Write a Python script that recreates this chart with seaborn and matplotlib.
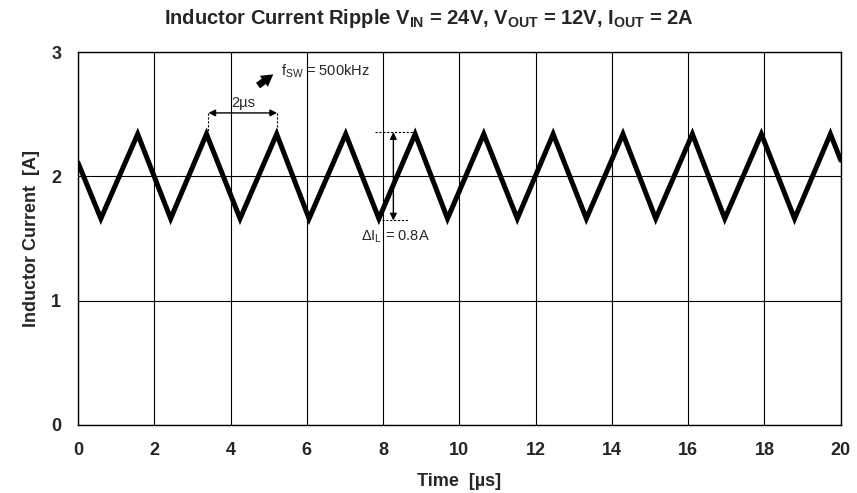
import matplotlib
matplotlib.use("Agg")
import matplotlib.pyplot as plt
import seaborn as sns
import pandas as pd

# Data
time_us = [0.0, 0.60, 1.565, 2.43, 3.37, 4.25, 5.21, 6.06, 7.02, 7.89, 8.84, 9.69,
           10.64, 11.52, 12.46, 13.33, 14.29, 15.15, 16.11, 16.96, 17.92, 18.79, 19.73, 20.0]
current_a = [2.11, 1.66, 2.34, 1.66, 2.34, 1.66, 2.34, 1.66, 2.34, 1.66, 2.34, 1.66,
             2.34, 1.66, 2.34, 1.66, 2.34, 1.66, 2.34, 1.66, 2.34, 1.66, 2.34, 2.13]
x_ticks = [0, 2, 4, 6, 8, 10, 12, 14, 16, 18, 20]
y_ticks = [0, 1, 2, 3]

df = pd.DataFrame({"Time": time_us, "Current": current_a})

sns.set_theme(style="white")
plt.rcParams["font.family"] = ["Liberation Sans", "DejaVu Sans"]
plt.rcParams["mathtext.fontset"] = "custom"
plt.rcParams["mathtext.rm"] = "Liberation Sans"
plt.rcParams["mathtext.it"] = "Liberation Sans:italic"
plt.rcParams["mathtext.bf"] = "Liberation Sans:bold"

fig = plt.figure(figsize=(8.57, 4.93), dpi=100)
ax = fig.add_axes([0.091, 0.138, 0.890, 0.7565])

sns.lineplot(data=df, x="Time", y="Current", ax=ax, color="black", linewidth=3.6,
             solid_joinstyle="miter", zorder=3)

ax.set_xlim(0, 20)
ax.set_ylim(0, 3)
ax.set_xticks(x_ticks)
ax.set_yticks(y_ticks)
ax.grid(True, color="black", linewidth=0.8)
ax.tick_params(length=0, labelsize=13, pad=12)
for lab in ax.get_xticklabels() + ax.get_yticklabels():
    lab.set_fontweight("bold")
for s in ax.spines.values():
    s.set_color("black")
    s.set_linewidth(1.0)

ax.set_xlabel("Time  [µs]", fontsize=13, fontweight="bold", labelpad=10)
ax.set_ylabel("Inductor Current  [A]", fontsize=13, fontweight="bold", labelpad=8)
fig.text(0.5, 0.963,
         r"Inductor Current Ripple $\mathbf{V_{IN}}$ = 24V, $\mathbf{V_{OUT}}$ = 12V, $\mathbf{I_{OUT}}$ = 2A",
         ha="center", va="center", fontsize=14.5, fontweight="bold")

# 2us annotation
ax.annotate("", xy=(3.42, 2.51), xytext=(5.22, 2.51),
            arrowprops=dict(arrowstyle="<|-|>", color="black", lw=1.0,
                            mutation_scale=10, shrinkA=0, shrinkB=0))
ax.plot([3.42, 3.42], [2.51, 2.36], ls=(0, (2, 1.5)), color="black", lw=0.8)
ax.plot([5.22, 5.22], [2.51, 2.36], ls=(0, (2, 1.5)), color="black", lw=0.8)
ax.text(4.02, 2.535, "2µs", fontsize=10.5, ha="left", va="bottom")

# fsw annotation
ax.annotate("", xy=(5.12, 2.82), xytext=(4.72, 2.73),
            arrowprops=dict(arrowstyle="simple,head_length=0.6,head_width=0.7,tail_width=0.35",
                            color="black", lw=0, shrinkA=0, shrinkB=0, mutation_scale=14))
ax.text(5.32, 2.845, r"f$_{\mathrm{SW}}$ = 500kHz", fontsize=10.5, ha="left", va="center")

# delta IL annotation
ax.plot([7.78, 8.83], [2.355, 2.355], ls=(0, (2, 1.5)), color="black", lw=0.8)
ax.plot([7.86, 8.65], [1.645, 1.645], ls=(0, (2, 1.5)), color="black", lw=0.8)
ax.annotate("", xy=(8.27, 2.355), xytext=(8.27, 1.645),
            arrowprops=dict(arrowstyle="<|-|>", color="black", lw=1.0,
                            mutation_scale=10, shrinkA=0, shrinkB=0))
ax.text(7.42, 1.51, r"ΔI$_{\mathrm{L}}$ = 0.8A", fontsize=10.5, ha="left", va="center")

fig.savefig("out.png", dpi=100)
